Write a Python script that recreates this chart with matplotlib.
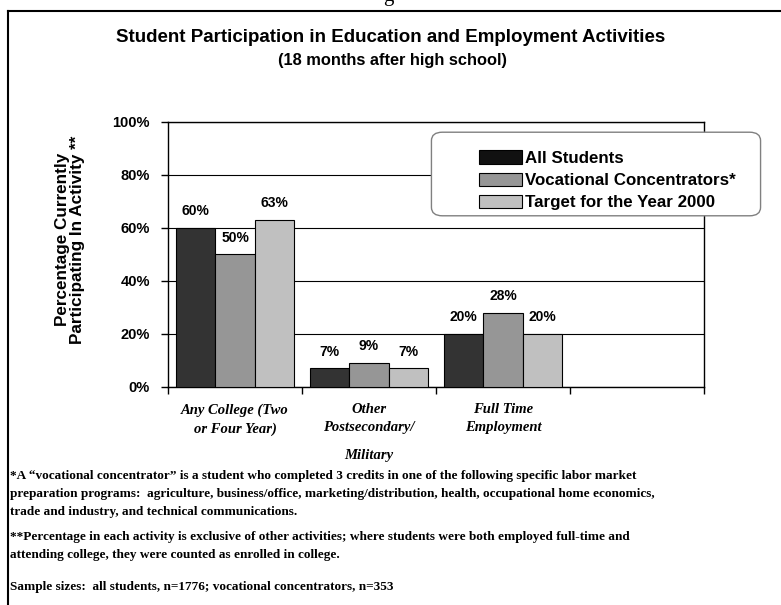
import matplotlib
matplotlib.use("Agg")
import matplotlib.pyplot as plt
from matplotlib.patches import Patch, FancyBboxPatch
import numpy as np

categories = ["Any College (Two\nor Four Year)", "Other\nPostsecondary/", "Full Time\nEmployment", ""]
series_names = ["All Students", "Vocational Concentrators*", "Target for the Year 2000"]
all_students = [60, 7, 20]
vocational = [50, 9, 28]
target = [63, 7, 20]
colors = ["#333333", "#969696", "#c0c0c0"]
yticks = [0, 20, 40, 60, 80, 100]

footnotes = [
    "*A \u201cvocational concentrator\u201d is a student who completed 3 credits in one of the following specific labor market",
    "preparation programs:  agriculture, business/office, marketing/distribution, health, occupational home economics,",
    "trade and industry, and technical communications.",
    "**Percentage in each activity is exclusive of other activities; where students were both employed full-time and",
    "attending college, they were counted as enrolled in college.",
    "Sample sizes:  all students, n=1776; vocational concentrators, n=353",
]

W, H = 781, 605
fig = plt.figure(figsize=(W / 100, H / 100), dpi=100)

def fx(px):
    return px / W

def fy(py):
    return 1 - py / H

# page frame (top and left edges visible)
fig.add_artist(plt.Line2D([fx(8), fx(781)], [fy(11), fy(11)], color="black", lw=1.5))
fig.add_artist(plt.Line2D([fx(8), fx(8)], [fy(11), fy(605)], color="black", lw=1.5))
# clipped glyph from the page above
fig.text(fx(388), fy(1), "g", family="Liberation Serif", fontsize=15, ha="center", va="baseline")

fig.text(fx(391), fy(38), "Student Participation in Education and Employment Activities",
         ha="center", va="center", fontsize=13.5, fontweight="bold", family="Liberation Sans")
fig.text(fx(393), fy(60), "(18 months after high school)",
         ha="center", va="center", fontsize=11.8, fontweight="bold", family="Liberation Sans")

ax = fig.add_axes([fx(168), fy(387), fx(704) - fx(168), fy(121.7) - fy(387)])

bw = 0.292
x = np.arange(3) + 0.5
for i, (vals, c) in enumerate(zip([all_students, vocational, target], colors)):
    pos = x + (i - 1) * bw
    bars = ax.bar(pos, vals, width=bw, color=c, edgecolor="black", linewidth=0.8, zorder=3)
    for b, v in zip(bars, vals):
        ax.annotate(f"{v}%", (b.get_x() + b.get_width() / 2, v), xytext=(0, 7),
                    textcoords="offset points", ha="center", va="bottom",
                    fontsize=10, fontweight="bold", family="Liberation Sans", zorder=4)

ax.set_xlim(0, 4)
ax.set_ylim(0, 100)
ax.set_yticks(yticks)
ax.set_yticklabels([f"{t}%" for t in yticks], fontsize=10.5, fontweight="bold", family="Liberation Sans")
ax.yaxis.grid(True, color="black", lw=0.8, zorder=0)
ax.set_xticks([0, 1, 2, 3, 4])
ax.set_xticklabels([])
ax.tick_params(axis="both", direction="out", length=5, width=1, pad=8)
for s in ax.spines.values():
    s.set_linewidth(1.0)

ax.set_ylabel("Percentage Currently\nParticipating In Activity **", fontsize=12.3,
              fontweight="bold", family="Liberation Sans", linespacing=1.0)
ax.yaxis.set_label_coords(-0.155, 0.555)

for i, lab in enumerate(categories):
    if lab:
        ax.text(i + 0.5, -0.062, lab, transform=ax.get_xaxis_transform(), ha="center", va="top",
                fontsize=10.5, fontweight="bold", style="italic", family="Liberation Serif",
                linespacing=1.5)
ax.text(1.5, -0.235, "Military", transform=ax.get_xaxis_transform(), ha="center", va="top",
        fontsize=10.5, fontweight="bold", style="italic", family="Liberation Serif")

# legend box
box = FancyBboxPatch((fx(433) + 0.012, fy(217) + 0.016), fx(759) - fx(433) - 0.024,
                     fy(131) - fy(217) - 0.032, boxstyle="round,pad=0.014",
                     transform=fig.transFigure, facecolor="white", edgecolor="#808080",
                     lw=1.0, zorder=9)
fig.add_artist(box)
handles = [Patch(facecolor=c, edgecolor="black", lw=0.8) for c in ["#111111", colors[1], colors[2]]]
leg = fig.legend(handles, series_names, loc="upper left", bbox_to_anchor=(fx(471), fy(142)),
                 frameon=False, handlelength=2.5, handleheight=0.85, handletextpad=0.2,
                 labelspacing=0.38, borderpad=0.0,
                 prop={"family": "Liberation Sans", "weight": "bold", "size": 12.2})
leg.set_zorder(10)

ypos = [476, 494, 512, 537, 555, 587]
for line, yp in zip(footnotes, ypos):
    fig.text(fx(10), fy(yp), line, ha="left", va="center", fontsize=9.5,
             fontweight="bold", family="Liberation Serif")

fig.savefig("out.png", dpi=100)
